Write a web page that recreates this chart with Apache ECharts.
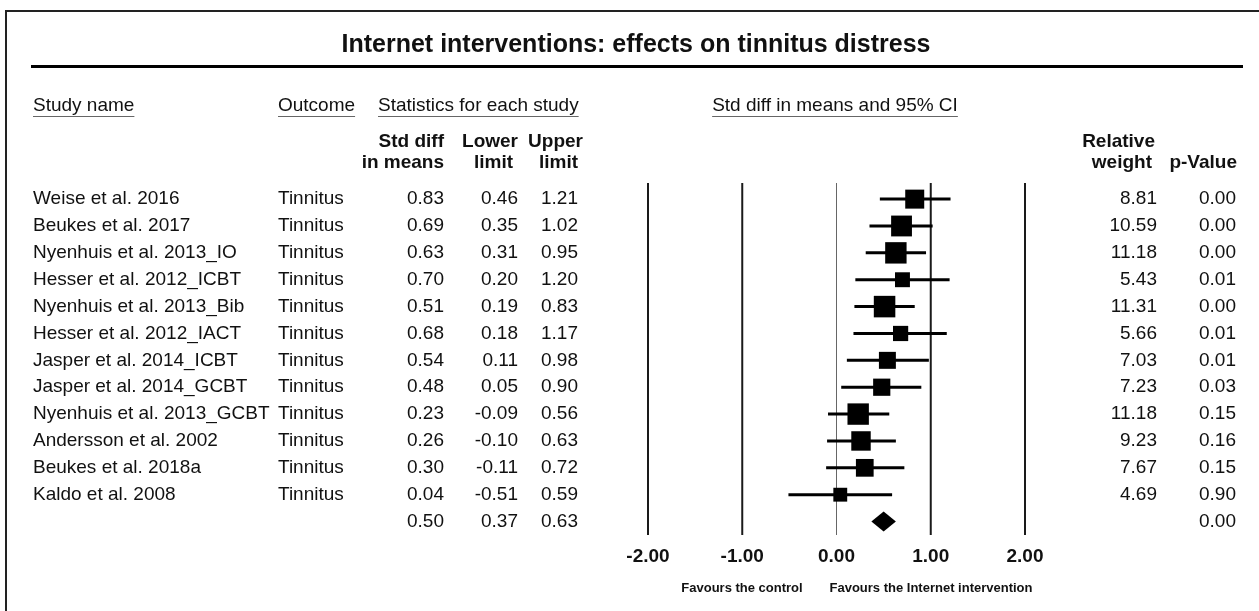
<!DOCTYPE html>
<html><head><meta charset="utf-8">
<script src="https://cdn.jsdelivr.net/npm/echarts@6/dist/echarts.min.js"></script>
<style>html,body{margin:0;padding:0;background:#fff}#c{width:1259px;height:611px}</style>
</head><body><div id="c"></div>
<script>
const studies = ['Weise et al. 2016','Beukes et al. 2017','Nyenhuis et al. 2013_IO','Hesser et al. 2012_ICBT','Nyenhuis et al. 2013_Bib','Hesser et al. 2012_IACT','Jasper et al. 2014_ICBT','Jasper et al. 2014_GCBT','Nyenhuis et al. 2013_GCBT','Andersson et al. 2002','Beukes et al. 2018a','Kaldo et al. 2008'];
const outcomes = ['Tinnitus','Tinnitus','Tinnitus','Tinnitus','Tinnitus','Tinnitus','Tinnitus','Tinnitus','Tinnitus','Tinnitus','Tinnitus','Tinnitus'];
const stdDiff = [0.83,0.69,0.63,0.70,0.51,0.68,0.54,0.48,0.23,0.26,0.30,0.04];
const lowerLimit = [0.46,0.35,0.31,0.20,0.19,0.18,0.11,0.05,-0.09,-0.10,-0.11,-0.51];
const upperLimit = [1.21,1.02,0.95,1.20,0.83,1.17,0.98,0.90,0.56,0.63,0.72,0.59];
const relWeight = [8.81,10.59,11.18,5.43,11.31,5.66,7.03,7.23,11.18,9.23,7.67,4.69];
const pValue = [0.00,0.00,0.00,0.01,0.00,0.01,0.01,0.03,0.15,0.16,0.15,0.90];
const summaryStats = [0.50,0.37,0.63];
const summaryP = 0.00;
const xTicks = [-2,-1,0,1,2];

const FONT = "'Liberation Sans', Arial, sans-serif";
const INK = '#111';
const Y_MIN = -0.6, Y_MAX = 12.5;
const nRows = studies.length;

const mc = document.createElement('canvas').getContext('2d');
function tw(text, font){ mc.font = font; return mc.measureText(text).width; }

const body = '19px ' + FONT;
const bold = 'bold 19px ' + FONT;

const tableData = [];
for (let i = 0; i <= nRows; i++) tableData.push([0, i]);

function txt(x, y, text, font, align){
  return {type:'text', x:x, y:y, style:{text:text, font:font, fill:INK, align:align||'left', verticalAlign:'middle'}};
}

const headerUnder = [
  {t:'Study name', x:33, align:'left'},
  {t:'Outcome', x:278, align:'left'},
  {t:'Statistics for each study', x:378, align:'left'},
  {t:'Std diff in means and 95% CI', x:835, align:'center'}
];
const graphics = [
  {type:'line', shape:{x1:5,y1:11,x2:1259,y2:11}, style:{stroke:'#222',lineWidth:2}},
  {type:'line', shape:{x1:6,y1:10,x2:6,y2:611}, style:{stroke:'#222',lineWidth:2}},
  {type:'text', x:636, y:45, style:{text:'Internet interventions: effects on tinnitus distress', font:'bold 25px '+FONT, fill:INK, align:'center', verticalAlign:'middle'}},
  {type:'line', shape:{x1:31,y1:66.5,x2:1243,y2:66.5}, style:{stroke:'#000',lineWidth:3}}
];
headerUnder.forEach(h=>{
  graphics.push({type:'text', x:h.x, y:106, style:{text:h.t, font:body, fill:INK, align:h.align, verticalAlign:'middle'}});
  const w = tw(h.t, body);
  const x0 = h.align==='center' ? h.x - w/2 : h.x;
  graphics.push({type:'line', shape:{x1:x0,y1:116.5,x2:x0+w,y2:116.5}, style:{stroke:'#666',lineWidth:1}});
});
[
  ['Std diff',444,142],['in means',444,163],
  ['Lower',518,142],['limit',513,163],
  ['Upper',583,142],['limit',578,163],
  ['Relative',1155,142],['weight',1152,163],
  ['p-Value',1237,163]
].forEach(a=>graphics.push({type:'text', x:a[1], y:a[2], style:{text:a[0], font:bold, fill:INK, align:'right', verticalAlign:'middle'}}));
graphics.push({type:'text', x:742, y:588, style:{text:'Favours the control', font:'bold 13px '+FONT, fill:INK, align:'center', verticalAlign:'middle'}});
graphics.push({type:'text', x:931, y:588, style:{text:'Favours the Internet intervention', font:'bold 13px '+FONT, fill:INK, align:'center', verticalAlign:'middle'}});

const forestData = stdDiff.map((v,i)=>[i, v, lowerLimit[i], upperLimit[i], relWeight[i]]);

const chart = echarts.init(document.getElementById('c'), null, {renderer:'canvas'});
chart.setOption({
  animation:false,
  backgroundColor:'#fff',
  grid:{left:648, width:377, top:183, height:352, containLabel:false},
  xAxis:{type:'value', min:-2, max:2, interval:1,
    axisLine:{show:false}, axisTick:{show:false}, splitLine:{show:false},
    axisLabel:{margin:12, color:INK, fontFamily:FONT, fontSize:19, fontWeight:'bold', formatter:v=>v.toFixed(2)}},
  yAxis:{type:'value', min:Y_MIN, max:Y_MAX, inverse:true, show:false},
  graphic:graphics,
  series:[
    {type:'custom', clip:false, z:1, data:xTicks.map(t=>[t]), encode:{x:0},
      renderItem:(p,api)=>{
        const t = api.value(0);
        const a = api.coord([t, Y_MIN]), b = api.coord([t, Y_MAX]);
        return {type:'line', shape:{x1:a[0],y1:a[1],x2:b[0],y2:b[1]},
          style:{stroke: t===0 ? '#666' : '#1a1a1a', lineWidth: t===0 ? 1 : 2}};
      }},
    {type:'custom', clip:false, z:3, data:forestData, encode:{x:[1,2,3], y:0},
      renderItem:(p,api)=>{
        const i=api.value(0), est=api.value(1), lo=api.value(2), hi=api.value(3), w=api.value(4);
        const a=api.coord([lo,i]), b=api.coord([hi,i]), c=api.coord([est,i]);
        const s = 6.4*Math.sqrt(w);
        return {type:'group', children:[
          {type:'line', shape:{x1:a[0],y1:a[1],x2:b[0],y2:b[1]}, style:{stroke:'#000',lineWidth:3}},
          {type:'rect', shape:{x:c[0]-s/2,y:c[1]-s/2,width:s,height:s}, style:{fill:'#000'}}
        ]};
      }},
    {type:'custom', clip:false, z:3, data:[[nRows].concat(summaryStats)], encode:{x:[1,2,3], y:0},
      renderItem:(p,api)=>{
        const i=api.value(0), est=api.value(1), lo=api.value(2), hi=api.value(3);
        const a=api.coord([lo,i]), b=api.coord([hi,i]), c=api.coord([est,i]);
        return {type:'polygon', shape:{points:[[a[0],a[1]],[c[0],c[1]-10],[b[0],b[1]],[c[0],c[1]+10]]}, style:{fill:'#000'}};
      }},
    {type:'custom', clip:false, z:2, data:tableData, encode:{x:0, y:1},
      renderItem:(p,api)=>{
        const i = api.value(1);
        const y = api.coord([0,i])[1];
        const ch = [];
        if (i < nRows) {
          ch.push(txt(33, y, studies[i], body));
          ch.push(txt(278, y, outcomes[i], body));
          ch.push(txt(444, y, stdDiff[i].toFixed(2), body, 'right'));
          ch.push(txt(518, y, lowerLimit[i].toFixed(2), body, 'right'));
          ch.push(txt(578, y, upperLimit[i].toFixed(2), body, 'right'));
          ch.push(txt(1157, y, relWeight[i].toFixed(2), body, 'right'));
          ch.push(txt(1236, y, pValue[i].toFixed(2), body, 'right'));
        } else {
          ch.push(txt(444, y, summaryStats[0].toFixed(2), body, 'right'));
          ch.push(txt(518, y, summaryStats[1].toFixed(2), body, 'right'));
          ch.push(txt(578, y, summaryStats[2].toFixed(2), body, 'right'));
          ch.push(txt(1236, y, summaryP.toFixed(2), body, 'right'));
        }
        return {type:'group', children:ch};
      }}
  ]
});
</script></body></html>
